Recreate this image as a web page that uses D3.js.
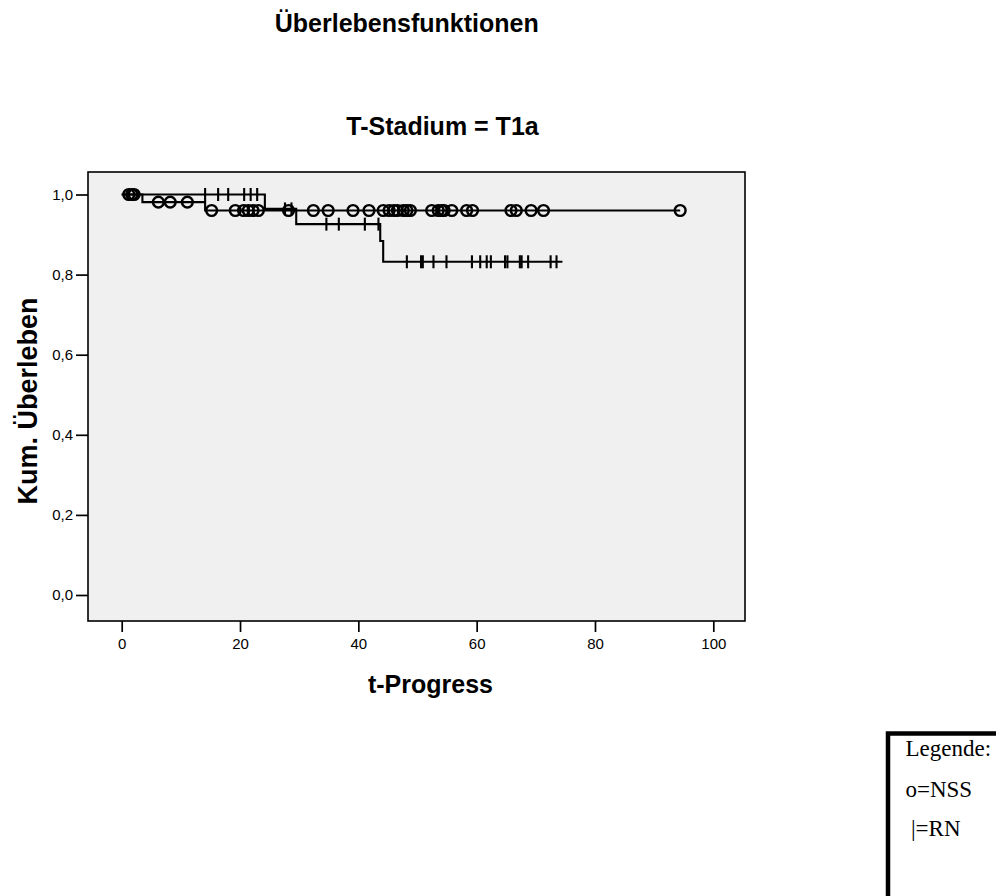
<!DOCTYPE html>
<html>
<head>
<meta charset="utf-8">
<script src="https://cdn.jsdelivr.net/npm/d3@7"></script>
<style>
  html, body { margin: 0; padding: 0; background: #ffffff; }
  svg { display: block; }
</style>
</head>
<body>
<script>
// ---------- DATA ----------
const xTickValues = [0, 20, 40, 60, 80, 100];
const yTickValues = [0.0, 0.2, 0.4, 0.6, 0.8, 1.0];
const yTickLabels = ["0,0", "0,2", "0,4", "0,6", "0,8", "1,0"];

// NSS group (circles = censored)
const nssStepTimes = [0, 3.5, 14.1];
const nssStepSurv  = [1.0, 0.981, 0.960];
const nssEndTime   = 94.4;
const nssCensored  = [1.2, 1.7, 2.1, 6.2, 8.2, 11.1, 15.2, 19.2, 20.6, 21.4, 22.2, 23.1,
                      28.2, 32.4, 34.9, 39.1, 41.8, 44.2, 45.2, 46.0, 46.6, 47.6, 48.2, 48.8,
                      52.4, 53.5, 54.1, 54.5, 55.8, 58.3, 59.3, 65.8, 66.7, 69.2, 71.3, 94.4];

// RN group (vertical ticks = censored)
const rnStepTimes = [0, 24.2, 29.5, 43.7, 44.2];
const rnStepSurv  = [1.0, 0.964, 0.926, 0.884, 0.832];
const rnEndTime   = 74.5;
const rnCensored  = [14.1, 16.3, 18.0, 20.7, 21.8, 22.9, 27.6, 28.7, 34.6, 36.7, 41.1, 43.4,
                     48.2, 50.6, 50.9, 52.7, 54.9, 59.2, 60.6, 61.7, 62.4, 64.8, 65.2, 67.3,
                     67.6, 68.7, 72.5, 73.5];

const titleText = "Überlebensfunktionen";
const subTitleText = "T-Stadium = T1a";
const xTitleText = "t-Progress";
const yTitleText = "Kum. Überleben";
const legendLines = ["Legende:", "o=NSS", "|=RN"];

// ---------- LAYOUT ----------
const W = 996, H = 896;
const box = { left: 88, right: 745, top: 172, bottom: 621 };

const svg = d3.select("body").append("svg").attr("width", W).attr("height", H);

const x = d3.scaleLinear().domain([0, 100]).range([121.7, 713.3]);
const y = d3.scaleLinear().domain([0, 1]).range([595, 194.5]);

// plot background
svg.append("rect")
  .attr("x", box.left).attr("y", box.top)
  .attr("width", box.right - box.left).attr("height", box.bottom - box.top)
  .attr("fill", "#f0f0f0").attr("stroke", "#000").attr("stroke-width", 1.6);

// axes
const xAxis = d3.axisBottom(x).tickValues(xTickValues).tickSize(11).tickPadding(6)
  .tickFormat(d3.format("d"));
const gx = svg.append("g").attr("transform", `translate(0,${box.bottom})`).call(xAxis);
gx.select(".domain").remove();
gx.selectAll(".tick line").attr("stroke", "#000").attr("stroke-width", 1.7);
gx.selectAll(".tick text").attr("font-family", "Liberation Sans, Arial, sans-serif")
  .attr("font-size", 15).attr("fill", "#000");

const yAxis = d3.axisLeft(y).tickValues(yTickValues).tickSize(12).tickPadding(3)
  .tickFormat((d, i) => yTickLabels[i]);
const gy = svg.append("g").attr("transform", `translate(${box.left},0)`).call(yAxis);
gy.select(".domain").remove();
gy.selectAll(".tick line").attr("stroke", "#000").attr("stroke-width", 1.7);
gy.selectAll(".tick text").attr("font-family", "Liberation Sans, Arial, sans-serif")
  .attr("font-size", 15).attr("fill", "#000");

// helpers
function survAt(times, surv, t) {
  let s = surv[0];
  for (let i = 0; i < times.length; i++) if (times[i] <= t) s = surv[i];
  return s;
}
function stepPoints(times, surv, end) {
  const pts = times.map((t, i) => [t, surv[i]]);
  pts.push([end, surv[surv.length - 1]]);
  return pts;
}
const line = d3.line().x(d => x(d[0])).y(d => y(d[1])).curve(d3.curveStepAfter);

// curves
svg.append("path").datum(stepPoints(rnStepTimes, rnStepSurv, rnEndTime))
  .attr("d", line).attr("fill", "none").attr("stroke", "#000").attr("stroke-width", 2.1);
svg.append("path").datum(stepPoints(nssStepTimes, nssStepSurv, nssEndTime))
  .attr("d", line).attr("fill", "none").attr("stroke", "#000").attr("stroke-width", 2.1);

// RN censor ticks
svg.append("g").selectAll("line").data(rnCensored).join("line")
  .attr("x1", d => x(d)).attr("x2", d => x(d))
  .attr("y1", d => y(survAt(rnStepTimes, rnStepSurv, d)) - 6.5)
  .attr("y2", d => y(survAt(rnStepTimes, rnStepSurv, d)) + 6.5)
  .attr("stroke", "#000").attr("stroke-width", 2.1);

// NSS censor circles
svg.append("g").selectAll("circle").data(nssCensored).join("circle")
  .attr("cx", d => x(d))
  .attr("cy", d => y(survAt(nssStepTimes, nssStepSurv, d)))
  .attr("r", 5.4)
  .attr("fill", "none").attr("stroke", "#000").attr("stroke-width", 2.4);

// titles
const sans = "Liberation Sans, Arial, sans-serif";
svg.append("text").attr("x", 406.7).attr("y", 32).attr("text-anchor", "middle")
  .attr("font-family", sans).attr("font-weight", "bold").attr("font-size", 25)
  .text(titleText);
svg.append("text").attr("x", 442.5).attr("y", 135).attr("text-anchor", "middle")
  .attr("font-family", sans).attr("font-weight", "bold").attr("font-size", 25)
  .text(subTitleText);
svg.append("text").attr("x", 430.5).attr("y", 693).attr("text-anchor", "middle")
  .attr("font-family", sans).attr("font-weight", "bold").attr("font-size", 25)
  .text(xTitleText);
svg.append("text").attr("transform", `translate(37,401) rotate(-90)`).attr("text-anchor", "middle")
  .attr("font-family", sans).attr("font-weight", "bold").attr("font-size", 27)
  .text(yTitleText);

// legend box
svg.append("rect").attr("x", 888).attr("y", 733.5).attr("width", 200).attr("height", 250)
  .attr("fill", "#fff").attr("stroke", "#000").attr("stroke-width", 4.5);
const serif = "Liberation Serif, Times New Roman, serif";
const legX = [905.5, 905.5, 911];
const legY = [756, 797, 836];
svg.append("g").selectAll("text").data(legendLines).join("text")
  .attr("x", (d, i) => legX[i]).attr("y", (d, i) => legY[i])
  .attr("font-family", serif).attr("font-size", 23).attr("fill", "#000")
  .text(d => d);
</script>
</body>
</html>
